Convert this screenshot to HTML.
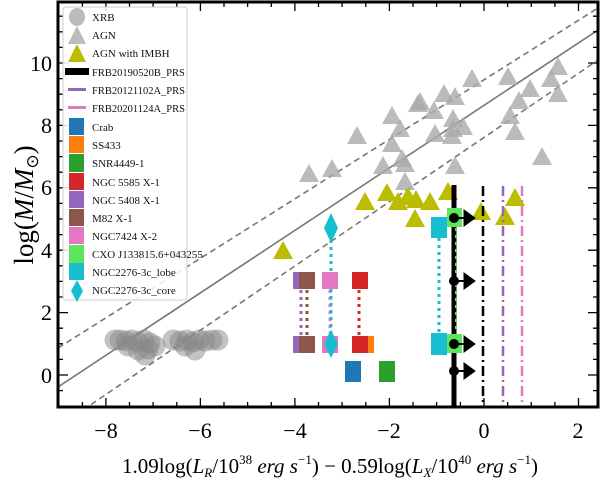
<!DOCTYPE html>
<html><head><meta charset="utf-8"><style>
html,body{margin:0;padding:0;background:#fff;}
svg{display:block;font-family:"Liberation Serif",serif;}
</style></head><body>
<svg width="603" height="484" viewBox="0 0 603 484" xmlns="http://www.w3.org/2000/svg">
<defs>
<clipPath id="c"><rect x="58" y="2" width="540" height="405"/></clipPath>
<g id="tg"><polygon points="0,-11 10,7 -10,7"/></g>
</defs>
<g clip-path="url(#c)">
<line x1="58" y1="387" x2="598" y2="30" stroke="#777" stroke-width="1.6"/>
<line x1="58" y1="348" x2="598" y2="8" stroke="#777" stroke-width="1.6" stroke-dasharray="6,4"/>
<line x1="58" y1="427" x2="598" y2="60" stroke="#777" stroke-width="1.6" stroke-dasharray="6,4"/>
<!-- XRB -->
<g fill="#888" fill-opacity="0.5">
<circle cx="115" cy="340" r="10.5"/><circle cx="120" cy="340" r="10.5"/><circle cx="126" cy="341" r="10.5"/><circle cx="132" cy="340" r="10.5"/><circle cx="138" cy="342" r="10.5"/><circle cx="144" cy="340" r="10.5"/><circle cx="150" cy="343" r="10.5"/><circle cx="138" cy="350" r="10.5"/><circle cx="145" cy="355" r="10.5"/><circle cx="155" cy="346" r="10.5"/><circle cx="128" cy="346" r="10.5"/><circle cx="148" cy="349" r="10.5"/>
<circle cx="173" cy="340" r="10.5"/><circle cx="180" cy="341" r="10.5"/><circle cx="187" cy="340" r="10.5"/><circle cx="193" cy="342" r="10.5"/><circle cx="199" cy="340" r="10.5"/><circle cx="205" cy="341" r="10.5"/><circle cx="212" cy="340" r="10.5"/><circle cx="218" cy="340" r="10.5"/><circle cx="195" cy="350" r="10.5"/><circle cx="185" cy="346" r="10.5"/>
</g>
<!-- AGN -->
<g fill="#aaa" fill-opacity="0.8">
<use href="#tg" x="309" y="175"/><use href="#tg" x="332" y="170"/><use href="#tg" x="357" y="137"/><use href="#tg" x="392" y="117"/><use href="#tg" x="400" y="130"/><use href="#tg" x="392" y="145"/><use href="#tg" x="383" y="167"/><use href="#tg" x="402" y="160"/><use href="#tg" x="405" y="165"/><use href="#tg" x="405" y="183"/><use href="#tg" x="418" y="105"/><use href="#tg" x="420" y="103"/><use href="#tg" x="434" y="112"/><use href="#tg" x="435" y="135"/><use href="#tg" x="444" y="95"/><use href="#tg" x="455" y="98"/><use href="#tg" x="453" y="120"/><use href="#tg" x="453" y="130"/><use href="#tg" x="452" y="137"/><use href="#tg" x="463" y="128"/><use href="#tg" x="455" y="167"/><use href="#tg" x="472" y="80"/><use href="#tg" x="508" y="78"/><use href="#tg" x="530" y="90"/><use href="#tg" x="519" y="102"/><use href="#tg" x="510" y="117"/><use href="#tg" x="515" y="133"/><use href="#tg" x="542" y="158"/><use href="#tg" x="551" y="80"/><use href="#tg" x="558" y="68"/><use href="#tg" x="558" y="95"/>
</g>
<!-- IMBH -->
<g fill="#bcbd00">
<use href="#tg" x="283" y="252"/><use href="#tg" x="365" y="203"/><use href="#tg" x="387" y="194"/><use href="#tg" x="398" y="203"/><use href="#tg" x="408" y="198"/><use href="#tg" x="416" y="201"/><use href="#tg" x="430" y="203"/><use href="#tg" x="415" y="220"/><use href="#tg" x="448" y="193"/><use href="#tg" x="481" y="213"/><use href="#tg" x="505" y="218"/><use href="#tg" x="515" y="199"/>
</g>
<g stroke-width="3" stroke-dasharray="3,4">
<line x1="301" y1="290" x2="301" y2="336" stroke="#9467bd"/>
<line x1="307" y1="290" x2="307" y2="336" stroke="#8c564b"/>
<line x1="330" y1="290" x2="330" y2="336" stroke="#e377c2"/>
<line x1="331" y1="240" x2="331" y2="336" stroke="#17becf"/>
<line x1="359" y1="290" x2="359" y2="336" stroke="#d62728"/>
<line x1="439" y1="238" x2="439" y2="334" stroke="#17becf"/>
</g>
<rect x="293" y="272" width="14" height="17" fill="#9467bd"/><rect x="299" y="272" width="16" height="17" fill="#8c564b"/>
<rect x="293" y="336" width="14" height="17" fill="#9467bd"/><rect x="299" y="336" width="16" height="17" fill="#8c564b"/>
<rect x="322" y="272" width="16" height="17" fill="#e377c2"/><rect x="322" y="336" width="16" height="17" fill="#e377c2"/>
<rect x="352" y="272" width="16" height="17" fill="#d62728"/>
<rect x="366" y="336" width="8" height="17" fill="#ff7f0e"/><rect x="352" y="336" width="16" height="17" fill="#d62728"/>
<rect x="345" y="361" width="16" height="21" fill="#1f77b4"/><rect x="379" y="361" width="16" height="21" fill="#2ca02c"/>
<polygon points="331,213 338,228 331,243 324,228" fill="#17becf"/>
<polygon points="331,330 338,344 331,358 324,344" fill="#17becf"/>
<rect x="431" y="217" width="16" height="21" fill="#17becf"/><rect x="431" y="333" width="16" height="22" fill="#17becf"/>
<line x1="483" y1="186" x2="483" y2="407" stroke="#000" stroke-width="2.5" stroke-dasharray="10,4,2,4"/>
<line x1="503" y1="186" x2="503" y2="407" stroke="#9467bd" stroke-width="2.5" stroke-dasharray="10,4,2,4"/>
<line x1="522" y1="186" x2="522" y2="407" stroke="#e377c2" stroke-width="2.5" stroke-dasharray="10,4,2,4"/>
<line x1="454" y1="185" x2="454" y2="407" stroke="#000" stroke-width="5"/>
<rect x="447" y="208" width="15" height="19" fill="#5ee55e"/><rect x="447" y="334" width="15" height="19" fill="#5ee55e"/>
<line x1="456" y1="228" x2="456" y2="333" stroke="#5ee55e" stroke-width="2" stroke-dasharray="3,4"/>
<g fill="#000" stroke="#000">
<g><circle cx="454" cy="218" r="4.5"/><line x1="454" y1="218" x2="465" y2="218" stroke-width="2"/><polygon points="464,210 475,218 464,226"/></g>
<g><circle cx="454" cy="281" r="4.5"/><line x1="454" y1="281" x2="465" y2="281" stroke-width="2"/><polygon points="464,273 475,281 464,289"/></g>
<g><circle cx="454" cy="344" r="4.5"/><line x1="454" y1="344" x2="465" y2="344" stroke-width="2"/><polygon points="464,336 475,344 464,352"/></g>
<g><circle cx="454" cy="371" r="4.5"/><line x1="454" y1="371" x2="465" y2="371" stroke-width="2"/><polygon points="464,363 475,371 464,379"/></g>
</g>
</g>
<g stroke="#000" stroke-width="1.3">
<path d="M82.4,407v-5M105.9,407v-9M129.5,407v-5M153.1,407v-5M176.8,407v-5M200.4,407v-9M224,407v-5M247.6,407v-5M271.3,407v-5M294.9,407v-9M318.5,407v-5M342.1,407v-5M365.8,407v-5M389.4,407v-9M413,407v-5M436.6,407v-5M460.4,407v-5M484,407v-9M507.6,407v-5M531.3,407v-5M554.9,407v-5M578.5,407v-9"/>
<path d="M82.4,2v5M105.9,2v9M129.5,2v5M153.1,2v5M176.8,2v5M200.4,2v9M224,2v5M247.6,2v5M271.3,2v5M294.9,2v9M318.5,2v5M342.1,2v5M365.8,2v5M389.4,2v9M413,2v5M436.6,2v5M460.4,2v5M484,2v9M507.6,2v5M531.3,2v5M554.9,2v5M578.5,2v9"/>
<path d="M58,390.6h5M58,375h10M58,359.4h5M58,343.8h5M58,328.2h5M58,312.6h10M58,297h5M58,281.4h5M58,265.8h5M58,250.2h10M58,234.6h5M58,219h5M58,203.4h5M58,187.8h10M58,172.2h5M58,156.6h5M58,141h5M58,125.4h10M58,109.8h5M58,94.2h5M58,78.6h5M58,63h10M58,47.4h5M58,31.8h5M58,16.2h5"/>
<path d="M598,390.6h-5M598,375h-10M598,359.4h-5M598,343.8h-5M598,328.2h-5M598,312.6h-10M598,297h-5M598,281.4h-5M598,265.8h-5M598,250.2h-10M598,234.6h-5M598,219h-5M598,203.4h-5M598,187.8h-10M598,172.2h-5M598,156.6h-5M598,141h-5M598,125.4h-10M598,109.8h-5M598,94.2h-5M598,78.6h-5M598,63h-10M598,47.4h-5M598,31.8h-5M598,16.2h-5"/>
</g>
<rect x="58" y="2" width="540" height="405" fill="none" stroke="#000" stroke-width="3"/>
<rect x="63" y="7" width="124" height="293" rx="3" fill="#fff" fill-opacity="0.85" stroke="#ccc"/>
<g font-size="11" fill="#111">
<ellipse cx="77" cy="17" rx="8" ry="9" fill="#bbb"/><text x="92" y="21">XRB</text>
<polygon points="77,26 86,44 68,44" fill="#bbb"/><text x="92" y="39">AGN</text>
<polygon points="77,44 86,62 68,62" fill="#bcbd00"/><text x="92" y="57">AGN with IMBH</text>
<rect x="65" y="68" width="24" height="7" fill="#000"/><text x="92" y="76" font-size="10.5">FRB20190520B_PRS</text>
<rect x="68" y="88" width="18" height="3" fill="#9467bd"/><text x="92" y="94" font-size="10.5">FRB20121102A_PRS</text>
<rect x="68" y="106" width="18" height="3" fill="#e377c2"/><text x="92" y="112" font-size="10.5">FRB20201124A_PRS</text>
<rect x="69" y="118" width="15" height="17" fill="#1f77b4"/><text x="92" y="131">Crab</text>
<rect x="69" y="136" width="15" height="17" fill="#ff7f0e"/><text x="92" y="149">SS433</text>
<rect x="69" y="154" width="15" height="18" fill="#2ca02c"/><text x="92" y="167">SNR4449-1</text>
<rect x="69" y="173" width="15" height="17" fill="#d62728"/><text x="92" y="186">NGC 5585 X-1</text>
<rect x="69" y="191" width="15" height="17" fill="#9467bd"/><text x="92" y="204">NGC 5408 X-1</text>
<rect x="69" y="209" width="15" height="17" fill="#8c564b"/><text x="92" y="222">M82 X-1</text>
<rect x="69" y="227" width="15" height="17" fill="#e377c2"/><text x="92" y="240">NGC7424 X-2</text>
<rect x="69" y="245" width="15" height="18" fill="#5ee55e"/><text x="92" y="258">CXO J133815.6+043255</text>
<rect x="69" y="263" width="15" height="17" fill="#17becf"/><text x="92" y="276">NGC2276-3c_lobe</text>
<polygon points="77,280 83,291 77,302 71,291" fill="#17becf"/><text x="92" y="294">NGC2276-3c_core</text>
</g>
<g font-size="22" fill="#000" text-anchor="middle">
<text x="106" y="438">−8</text><text x="200" y="438">−6</text><text x="295" y="438">−4</text><text x="389" y="438">−2</text><text x="484" y="438">0</text><text x="578" y="438">2</text>
</g>
<g font-size="22" fill="#000" text-anchor="end">
<text x="52" y="383">0</text><text x="52" y="320">2</text><text x="52" y="258">4</text><text x="52" y="195">6</text><text x="52" y="133">8</text><text x="52" y="71">10</text>
</g>
<text x="330" y="473" font-size="21" text-anchor="middle">1.09log(<tspan font-style="italic">L</tspan><tspan font-size="13" font-style="italic" dy="4">R</tspan><tspan dy="-4">/10</tspan><tspan font-size="13" dy="-9">38</tspan><tspan dy="9" font-style="italic"> erg s</tspan><tspan font-size="13" dy="-9">−1</tspan><tspan dy="9">) − 0.59log(</tspan><tspan font-style="italic">L</tspan><tspan font-size="13" font-style="italic" dy="4">X</tspan><tspan dy="-4">/10</tspan><tspan font-size="13" dy="-9">40</tspan><tspan dy="9" font-style="italic"> erg s</tspan><tspan font-size="13" dy="-9">−1</tspan><tspan dy="9">)</tspan></text>
<text transform="translate(33,205) rotate(-90)" font-size="27" text-anchor="middle">log(<tspan font-style="italic">M</tspan>/<tspan font-style="italic">M</tspan><tspan font-size="17" dy="5">⊙</tspan><tspan dy="-5">)</tspan></text>
</svg>
</body></html>
